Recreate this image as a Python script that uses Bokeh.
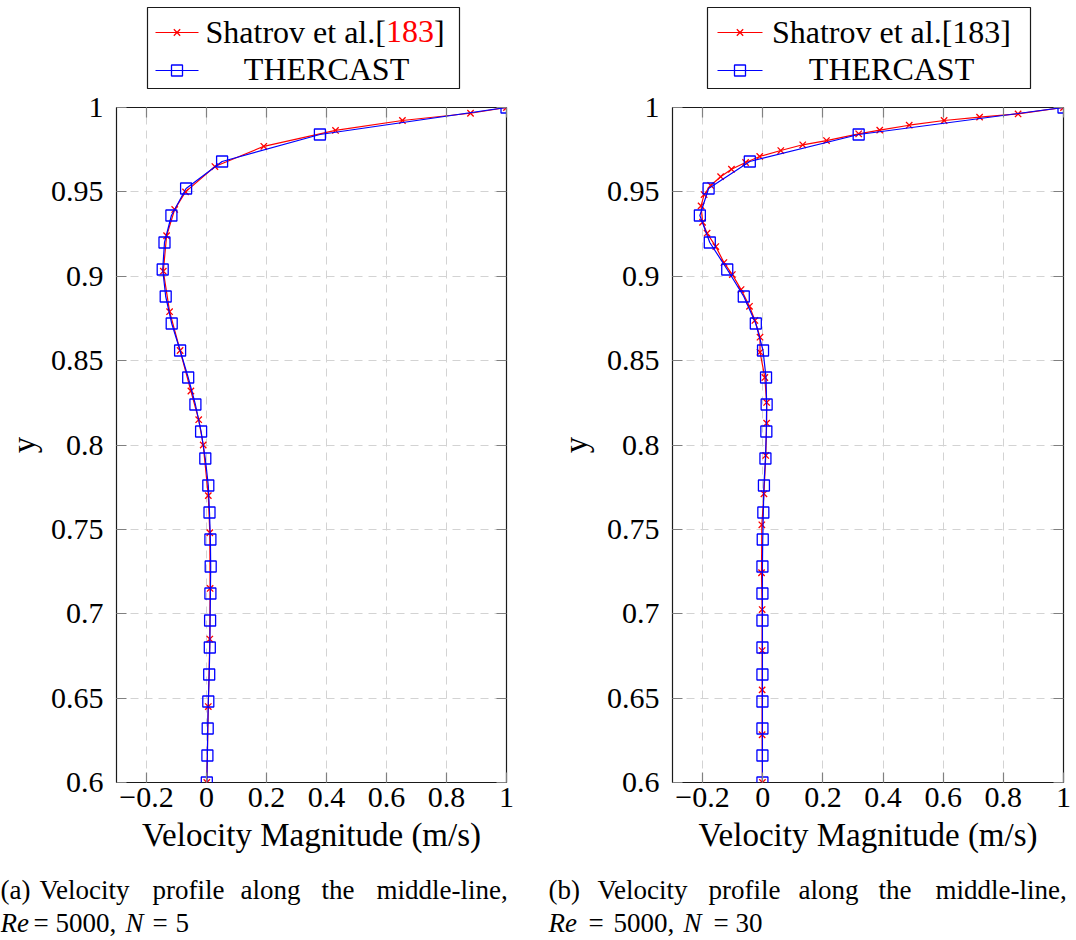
from bokeh.plotting import figure
from bokeh.layouts import column, row
from bokeh.models import Range1d, FixedTicker, LinearAxis, CustomJSTickFormatter
from bokeh.core.properties import value
from bokeh.embed import file_html
from bokeh.resources import INLINE

FONT = "Liberation Serif"

# ---------------- data ----------------
# Panel (a): N = 5
a_ref_y = [1.0, 0.9966, 0.9923, 0.9864, 0.977, 0.965, 0.950, 0.9396, 0.924, 0.903, 0.879,
           0.856, 0.832, 0.815, 0.800, 0.770, 0.748, 0.715, 0.685, 0.645, 0.600]
a_ref_x = [1.0, 0.88, 0.653, 0.43, 0.191, 0.028, -0.07, -0.106, -0.133, -0.144, -0.123,
           -0.088, -0.052, -0.026, -0.011, 0.006, 0.011, 0.012, 0.011, 0.006, 0.001]
a_sim_y = [1.0, 0.984, 0.968, 0.952, 0.936, 0.92, 0.904, 0.888, 0.872, 0.856, 0.84, 0.824, 0.808,
           0.792, 0.776, 0.76, 0.744, 0.728, 0.712, 0.696, 0.68, 0.664, 0.648, 0.632, 0.616, 0.6]
a_sim_x = [1.0, 0.378, 0.052, -0.068, -0.117, -0.140, -0.146, -0.136, -0.116, -0.088, -0.061,
           -0.037, -0.018, -0.004, 0.006, 0.010, 0.013, 0.014, 0.013, 0.012, 0.011, 0.009,
           0.006, 0.004, 0.003, 0.001]

# Panel (b): N = 30
b_ref_y = [1.0, 0.9962, 0.9943, 0.9923, 0.9895, 0.9866, 0.9844, 0.9804, 0.9779, 0.9745, 0.971,
           0.9674, 0.9634, 0.959, 0.9538, 0.9484, 0.9417, 0.932, 0.9255, 0.9176, 0.9081, 0.901,
           0.8921, 0.8822, 0.8738, 0.8639, 0.855, 0.840, 0.8252, 0.8129, 0.7938, 0.7711, 0.7527,
           0.7243, 0.7025, 0.6782, 0.6549, 0.6283, 0.600]
b_ref_x = [1.0, 0.849, 0.721, 0.603, 0.487, 0.389, 0.319, 0.212, 0.133, 0.060, -0.010,
           -0.057, -0.104, -0.140, -0.173, -0.195, -0.205, -0.200, -0.185, -0.156, -0.129, -0.101,
           -0.072, -0.044, -0.026, -0.009, -0.009, 0.007, 0.013, 0.013, 0.010, 0.004, -0.003,
           -0.004, -0.002, -0.002, -0.002, -0.002, -0.001]
b_sim_y = [1.0, 0.984, 0.968, 0.952, 0.936, 0.92, 0.904, 0.888, 0.872, 0.856, 0.84, 0.824, 0.808,
           0.792, 0.776, 0.76, 0.744, 0.728, 0.712, 0.696, 0.68, 0.664, 0.648, 0.632, 0.616, 0.6]
b_sim_x = [1.0, 0.319, -0.043, -0.180, -0.209, -0.176, -0.118, -0.063, -0.023, 0.001, 0.011,
           0.013, 0.012, 0.009, 0.004, 0.002, 0.0, -0.001, -0.001, -0.001, -0.001, -0.001,
           -0.001, -0.001, -0.001, -0.001]

x_ticks = [-0.2, 0.0, 0.2, 0.4, 0.6, 0.8, 1.0]
y_ticks = [0.6, 0.65, 0.7, 0.75, 0.8, 0.85, 0.9, 0.95, 1.0]
x_label = "Velocity Magnitude (m/s)"
y_label = "y"
legend_ref_parts = ["Shatrov et al.[", "183", "]"]
legend_ref = "Shatrov et al.[183]"
legend_sim = "THERCAST"

cap_a_line1 = ["(a)", "Velocity", "profile", "along", "the", "middle-line,"]
cap_a_line2 = ["Re", "=", "5000,", "N", "=", "5"]
cap_b_line1 = ["(b)", "Velocity", "profile", "along", "the", "middle-line,"]
cap_b_line2 = ["Re", "=", "5000,", "N", "=", "30"]

# ---------------- layout constants ----------------
LEG_H = 89
PLOT_H = 781
CAP_H = 70
TICK_COLOR = "#808080"

fmt_code = """
var v = Math.round(tick*100)/100;
if (v < 0) { return '\u2212' + String(-v); }
return String(Math.abs(v));
"""


def make_plot(width, left, right, ref_x, ref_y, sim_x, sim_y, ylab_standoff):
    p = figure(width=width, height=PLOT_H, x_range=Range1d(-0.3, 1.0), y_range=Range1d(0.6, 1.0),
               output_backend="svg", toolbar_location=None,
               min_border_left=left, min_border_right=right, min_border_top=18, min_border_bottom=88,
               x_axis_label=x_label, y_axis_label=y_label)
    p.outline_line_color = "#1a1a1a"
    p.outline_line_width = 1.2
    xt = FixedTicker(ticks=x_ticks)
    yt = FixedTicker(ticks=y_ticks)
    xa = p.below[0]
    ya = p.left[0]
    xa.ticker = xt
    ya.ticker = yt
    xa.formatter = CustomJSTickFormatter(code=fmt_code)
    ya.formatter = CustomJSTickFormatter(code=fmt_code)
    p.xgrid.ticker = xt
    p.ygrid.ticker = yt
    p.grid.grid_line_color = "#d3d3d3"
    p.grid.grid_line_dash = "8 6"
    p.grid.grid_line_width = 1

    # mirrored tick marks (no labels) on top and right, as in the reference
    top_ax = LinearAxis(ticker=xt, formatter=CustomJSTickFormatter(code="return '';"),
                        major_label_text_font_size="0px", major_label_standoff=0)
    right_ax = LinearAxis(ticker=yt, formatter=CustomJSTickFormatter(code="return '';"),
                          major_label_text_font_size="0px", major_label_standoff=0)
    p.add_layout(top_ax, "above")
    p.add_layout(right_ax, "right")

    for ax in (xa, ya, top_ax, right_ax):
        ax.axis_line_color = None
        ax.major_tick_in = 10
        ax.major_tick_out = 0
        ax.minor_tick_line_color = None
        ax.major_tick_line_color = TICK_COLOR
        ax.major_tick_line_width = 1.2
    for ax in (xa, ya):
        ax.major_label_text_font = FONT
        ax.major_label_text_font_size = "30px"
        ax.major_label_text_color = "black"
        ax.axis_label_text_font = FONT
        ax.axis_label_text_font_size = "33px"
        ax.axis_label_text_font_style = "normal"
        ax.axis_label_text_color = "black"
    xa.major_label_standoff = 5
    xa.axis_label_standoff = 7
    ya.major_label_standoff = 13
    ya.axis_label_standoff = ylab_standoff

    p.line(ref_x, ref_y, line_color="red", line_width=1.2)
    p.scatter(ref_x, ref_y, marker="x", size=9, line_color="red", line_width=1.3)
    p.line(sim_x, sim_y, line_color="blue", line_width=1.2)
    p.scatter(sim_x, sim_y, marker="square", size=11, line_color="blue", fill_color=None,
              line_width=1.3)
    return p


def blank(width, height):
    f = figure(width=width, height=height, x_range=Range1d(0, width), y_range=Range1d(height, 0),
               output_backend="svg", toolbar_location=None, min_border=0,
               x_axis_location=None, y_axis_location=None)
    f.grid.visible = False
    f.outline_line_color = None
    return f


def make_legend(width, box, lx0, lx1, red_part_color, text_cx, text_x0):
    f = blank(width, LEG_H)
    f.quad(left=box[0], right=box[1], top=box[2], bottom=box[3], fill_color="white",
           line_color="#1a1a1a", line_width=1.2)
    ry, by = 32, 70
    f.line([lx0, lx1], [ry, ry], line_color="red", line_width=1.2)
    f.scatter([(lx0 + lx1) / 2], [ry], marker="x", size=9, line_color="red", line_width=1.3)
    f.line([lx0, lx1], [by, by], line_color="blue", line_width=1.2)
    f.scatter([(lx0 + lx1) / 2], [by], marker="square", size=11, line_color="blue",
              fill_color=None, line_width=1.3)
    common = dict(text_font=value(FONT), text_font_size=value("32px"), text_baseline="alphabetic")
    t1y, t2y = 31, 68
    if red_part_color is not None:
        w = [180.4, 48.0]
        xs = [text_x0, text_x0 + w[0], text_x0 + w[0] + w[1]]
        cols = ["black", red_part_color, "black"]
        for t, xx, c in zip(legend_ref_parts, xs, cols):
            f.text(x=[xx], y=[t1y], text=[t], text_color=c, text_align="left", **common)
    else:
        f.text(x=[text_cx], y=[t1y], text=[legend_ref], text_color="black", text_align="center", **common)
    f.text(x=[text_cx], y=[t2y], text=[legend_sim], text_color="black", text_align="center", **common)
    return f


pa = make_plot(540, 116, 34, a_ref_x, a_ref_y, a_sim_x, a_sim_y, 6)
pb = make_plot(536, 132, 13, b_ref_x, b_ref_y, b_sim_x, b_sim_y, 10)

la = make_legend(540, (147, 459, 7, 88), 155, 198, "red", 326, 205)
lb = make_legend(536, (167, 490, 7, 88), 177, 222, None, 351, None)

cap = blank(1076, CAP_H)
ccommon = dict(text_font=value(FONT), text_font_size=value("27px"), text_baseline="alphabetic",
               text_align="left", text_color="black")
a1_x = [0, 39, 152, 240, 321, 376]
a2_x = [0, 33, 55, 125, 152, 175]
b1_x = [548, 597, 708, 798, 878, 935]
b2_x = [548, 588, 613, 683, 713, 735]
italic_words = {"Re", "N"}
for words, xs, yy in [(cap_a_line1, a1_x, 19), (cap_a_line2, a2_x, 52),
                      (cap_b_line1, b1_x, 19), (cap_b_line2, b2_x, 52)]:
    for w, xx in zip(words, xs):
        cap.text(x=[xx], y=[yy], text=[w], text_font_style="italic" if w in italic_words else "normal",
                 **ccommon)

layout = column(row(la, lb), row(pa, pb), cap)
open("out.html", "w").write(file_html(layout, INLINE))
